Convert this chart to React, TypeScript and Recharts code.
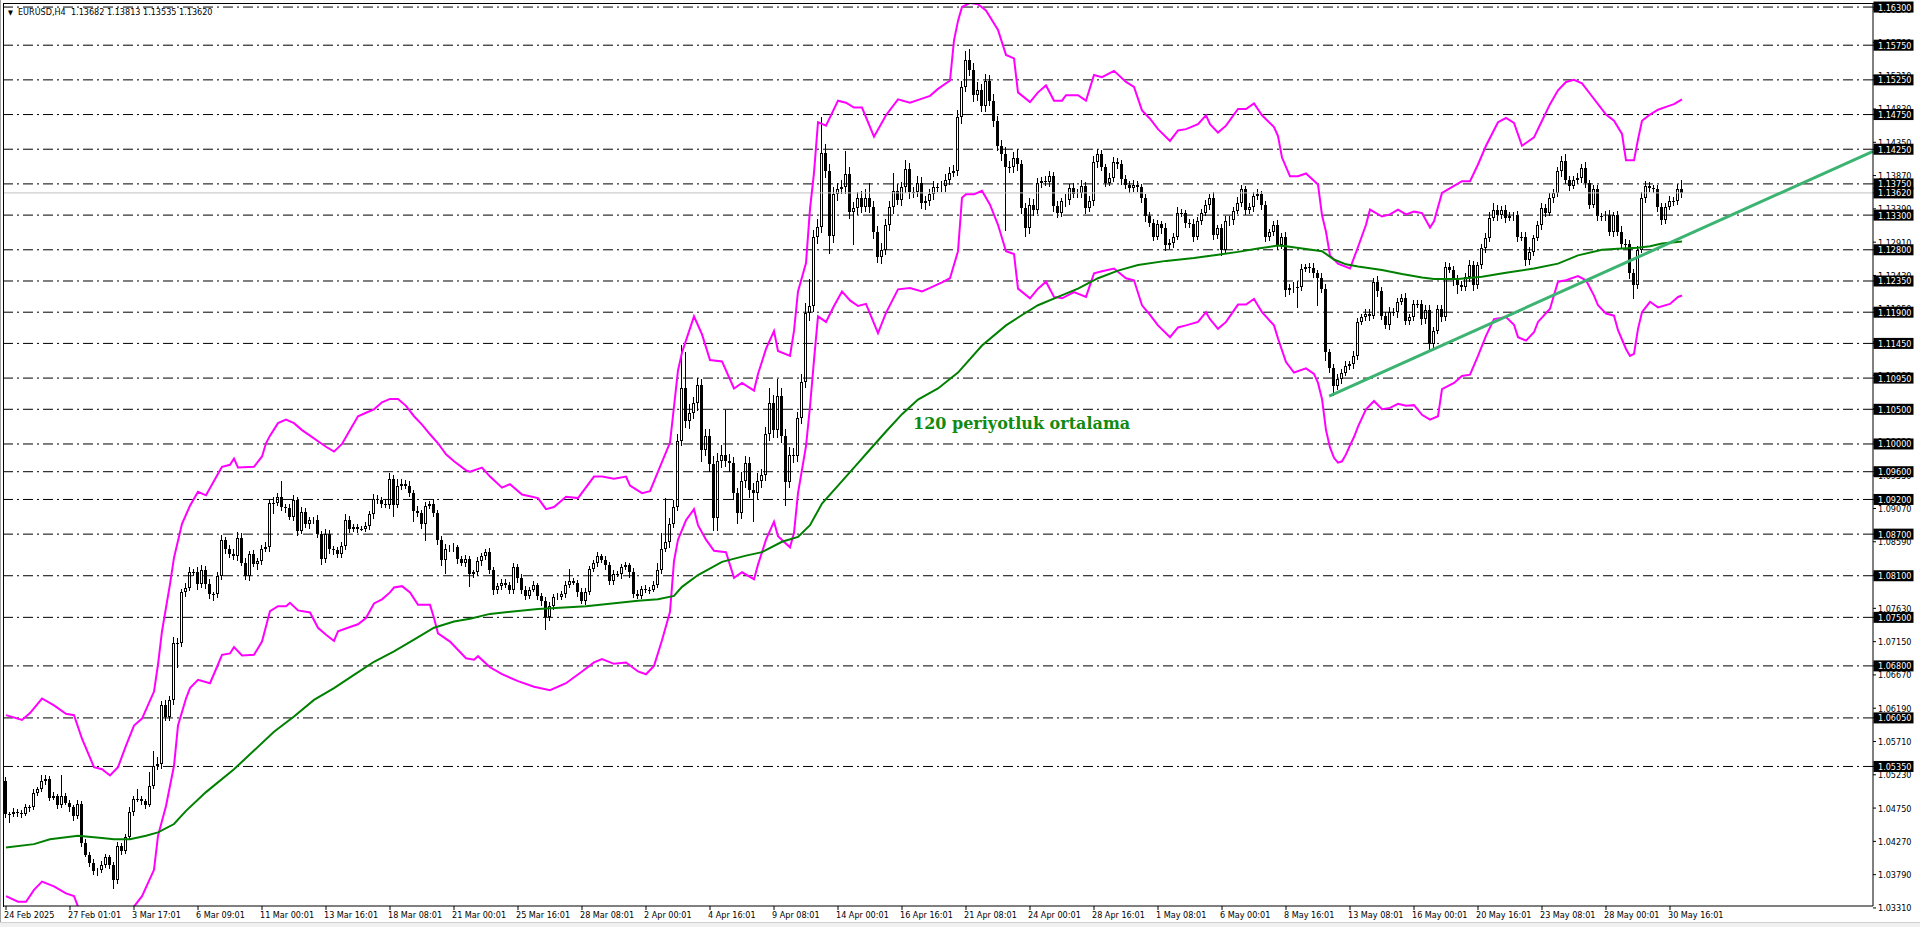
import React from 'react';
import { ComposedChart, Bar, Line, XAxis, YAxis, ReferenceLine } from 'recharts';

// EURUSD H4, prices in pips (1 pip = 0.0001)
const firstOpen = 10514;

const closes = [
  10466,10466,10470,10468,10466,10476,10476,10497,10502,10514,10517,10490,10492,10480,10492,10483,10476,10464,10481,10425,
  10408,10396,10384,10386,10393,10405,10393,10371,10420,10413,10434,10470,10488,10488,10485,10480,10507,10536,10538,10623,
  10606,10631,10713,10713,10786,10793,10815,10815,10798,10819,10798,10783,10783,10810,10861,10849,10841,10839,10865,10829,
  10810,10841,10827,10831,10849,10851,10915,10915,10924,10909,10907,10895,10919,10875,10902,10885,10890,10891,10870,10834,
  10870,10848,10847,10841,10853,10891,10878,10880,10878,10878,10882,10899,10921,10919,10914,10912,10950,10912,10940,10943,
  10940,10930,10904,10900,10884,10911,10913,10900,10861,10832,10849,10850,10851,10834,10829,10834,10812,10815,10831,10838,
  10844,10818,10789,10795,10800,10797,10789,10823,10807,10789,10781,10790,10797,10781,10774,10750,10766,10779,10780,10784,
  10797,10802,10800,10787,10774,10787,10820,10828,10838,10833,10826,10802,10812,10812,10823,10825,10815,10784,10781,10791,
  10790,10790,10797,10818,10849,10859,10885,10909,11005,11080,11033,11045,11059,11085,10992,11012,10971,10893,10976,10984,
  10976,10972,10929,10901,10947,10973,10934,10930,10947,10955,11015,11059,11020,11069,11012,10945,10984,10982,11038,11090,
  11189,11199,11298,11313,11420,11394,11300,11360,11368,11370,11389,11334,11340,11355,11342,11355,11342,11306,11269,11280,
  11316,11342,11365,11352,11370,11396,11363,11363,11376,11347,11350,11360,11370,11370,11372,11381,11391,11394,11471,11515,
  11553,11539,11503,11510,11488,11524,11495,11466,11430,11418,11399,11399,11413,11403,11340,11311,11345,11338,11377,11379,
  11378,11386,11343,11333,11350,11352,11369,11360,11362,11372,11340,11350,11406,11418,11399,11377,11384,11406,11404,11382,
  11374,11369,11373,11370,11355,11328,11319,11299,11317,11311,11287,11290,11299,11333,11333,11319,11317,11299,11322,11333,
  11345,11355,11302,11311,11280,11321,11323,11336,11348,11367,11338,11341,11357,11360,11345,11299,11305,11316,11287,11299,
  11222,11225,11227,11227,11253,11255,11254,11246,11239,11224,11132,11110,11084,11094,11103,11113,11115,11127,11176,11183,
  11188,11185,11234,11220,11185,11171,11190,11190,11205,11210,11178,11183,11202,11202,11180,11193,11144,11163,11195,11183,
  11255,11251,11236,11229,11226,11241,11258,11229,11258,11282,11297,11326,11338,11330,11338,11326,11328,11330,11299,11299,
  11265,11277,11297,11316,11340,11333,11355,11362,11393,11408,11381,11372,11381,11384,11398,11376,11345,11367,11328,11328,
  11330,11306,11330,11306,11289,11289,11246,11229,11280,11355,11372,11369,11367,11342,11323,11342,11350,11350,11368,11362,
];

// upper / lower shadow length of every candle, pips
const wickHi = [
  6,4,5,3,4,5,3,6,4,8,5,4,6,3,30,5,4,3,6,4,
  5,4,6,3,5,4,3,4,6,5,4,6,4,14,4,3,20,22,10,6,
  8,6,9,7,5,6,7,5,8,6,5,7,4,6,8,5,6,7,8,6,
  7,5,6,5,6,7,5,9,6,22,5,6,8,5,7,6,5,4,6,5,
  7,6,5,4,6,8,5,4,5,4,6,5,7,5,4,6,8,5,9,6,
  5,6,4,7,5,6,5,8,5,6,7,5,6,4,5,6,5,4,6,5,
  4,6,5,4,5,6,4,5,4,5,6,4,5,3,4,5,6,4,5,4,
  6,18,5,4,5,6,4,5,6,4,5,4,6,5,4,5,4,6,5,4,
  5,4,6,10,23,63,8,10,10,62,52,12,9,10,8,9,10,12,11,15,
  65,10,9,8,12,9,8,10,11,9,10,21,12,24,11,9,12,10,8,11,
  14,39,10,12,52,12,10,11,9,10,33,11,9,8,10,12,21,9,8,10,
  9,8,26,10,8,13,9,8,10,9,7,8,9,6,7,8,9,8,10,9,
  13,17,10,12,9,10,8,9,7,8,10,9,8,12,7,8,9,8,7,6,
  7,8,6,7,5,8,6,7,5,8,6,7,9,8,6,5,7,8,6,5,
  6,5,7,6,5,6,7,5,6,5,7,6,5,8,6,5,6,7,5,6,
  7,6,8,5,6,7,5,6,8,7,5,6,7,8,5,6,5,6,7,5,
  6,5,7,8,6,5,6,7,5,8,6,5,6,7,5,6,5,7,6,5,
  6,7,5,8,6,5,7,6,5,6,7,5,6,5,6,7,8,6,5,6,
  8,6,5,7,6,5,7,6,5,6,7,8,9,6,5,7,6,5,6,7,
  6,7,5,6,8,6,7,5,6,7,10,6,5,7,6,8,5,7,6,5,
  6,7,5,6,8,6,5,7,6,8,7,6,5,7,6,5,8,6,7,13,
];

const wickLo = [
  5,12,4,6,5,3,6,4,5,4,6,5,4,6,5,4,6,7,5,6,
  4,6,5,7,4,5,6,12,5,6,4,5,6,4,5,6,4,5,6,7,
  6,5,8,36,6,7,5,6,8,5,7,6,9,5,6,7,5,6,8,5,
  6,7,5,8,6,5,7,16,5,6,7,5,6,8,5,6,7,5,6,8,
  5,6,7,6,5,6,7,5,6,4,5,6,7,5,6,5,6,18,5,6,
  5,6,16,5,6,24,5,6,7,8,19,5,6,7,5,6,18,5,6,7,
  5,6,7,5,6,4,5,6,7,5,6,5,4,6,7,18,5,6,4,5,
  6,5,4,7,5,6,5,4,6,5,7,6,5,4,6,5,8,6,5,4,
  5,6,4,5,6,5,9,6,5,8,10,12,9,11,18,9,11,18,18,10,
  9,12,10,16,9,10,12,42,10,11,9,10,12,11,10,34,9,10,8,9,
  10,12,9,10,9,11,26,10,9,8,10,9,47,10,9,8,9,10,8,9,
  8,9,10,7,9,8,10,9,7,8,9,7,8,6,7,8,7,6,7,9,
  8,9,10,8,9,10,8,9,8,10,92,8,9,10,9,12,8,9,7,8,
  6,7,8,7,6,8,7,6,5,7,8,6,7,8,6,7,5,6,7,8,
  6,7,5,6,7,8,6,7,5,8,9,6,7,5,6,7,6,8,5,6,
  5,7,8,6,9,5,6,7,5,6,8,7,6,5,7,8,6,5,7,6,
  10,7,8,31,6,5,7,6,40,7,12,8,15,6,7,5,6,7,6,5,
  6,7,5,8,6,5,7,6,8,5,6,7,5,6,8,7,9,6,5,7,
  6,5,8,13,6,5,7,8,6,5,7,6,5,8,6,7,5,6,8,6,
  9,7,6,5,7,6,5,7,6,8,6,7,5,6,8,7,6,5,7,6,
  7,6,8,6,7,8,8,20,6,5,7,6,5,8,7,6,5,7,6,8,
];

const upperBand = [
  [0,10609],[4,10602],[6,10612],[9,10633],[12,10623],[15,10611],[17,10609],[19,10575],[22,10534],[24,10531],
  [26,10522],[28,10534],[30,10565],[32,10594],[34,10604],[37,10643],[38,10682],[39,10730],[41,10798],[42,10836],
  [44,10885],[46,10911],[48,10931],[50,10926],[53,10957],[54,10967],[56,10970],[57,10979],[58,10966],[62,10967],
  [64,10982],[65,11001],[66,11012],[68,11030],[70,11035],[72,11030],[74,11020],[76,11012],[78,11004],[80,10996],
  [82,10989],[84,11000],[86,11020],[88,11040],[90,11045],[92,11050],[94,11060],[96,11065],[98,11065],[100,11055],
  [102,11040],[104,11028],[106,11014],[108,11001],[110,10985],[112,10975],[115,10962],[116,10960],[119,10966],[121,10953],
  [124,10937],[126,10942],[129,10927],[133,10922],[135,10906],[137,10909],[140,10924],[143,10922],[147,10953],[149,10953],
  [152,10950],[155,10953],[156,10940],[159,10929],[161,10932],[163,10960],[166,11002],[167,11054],[168,11106],[169,11132],
  [172,11184],[174,11158],[176,11121],[179,11119],[182,11080],[184,11088],[187,11077],[188,11101],[190,11137],[192,11163],
  [193,11134],[196,11127],[197,11163],[198,11220],[200,11261],[201,11339],[202,11391],[203,11464],[205,11459],[208,11495],
  [210,11492],[212,11485],[214,11485],[217,11443],[220,11474],[223,11497],[226,11492],[229,11498],[231,11502],[233,11512],
  [236,11524],[237,11582],[238,11610],[239,11630],[241,11636],[243,11634],[245,11625],[248,11597],[250,11561],[252,11556],
  [253,11507],[256,11493],[258,11507],[260,11517],[262,11495],[264,11495],[265,11503],[268,11503],[270,11495],[272,11532],
  [274,11529],[277,11538],[280,11522],[282,11515],[284,11481],[286,11469],[288,11454],[291,11437],[293,11452],[295,11454],
  [298,11461],[300,11474],[301,11461],[303,11449],[305,11459],[308,11483],[310,11483],[312,11491],[314,11474],[317,11457],
  [318,11444],[319,11413],[321,11386],[323,11386],[325,11390],[328,11374],[329,11330],[330,11306],[331,11272],[333,11260],
  [336,11253],[338,11284],[340,11316],[341,11338],[344,11328],[346,11331],[348,11338],[350,11331],[352,11335],[354,11333],
  [356,11312],[357,11321],[359,11362],[362,11372],[364,11379],[366,11379],[368,11403],[370,11430],[373,11464],[375,11470],
  [377,11463],[379,11430],[382,11442],[384,11466],[386,11490],[388,11510],[390,11522],[392,11525],[394,11520],[396,11505],
  [398,11490],[400,11475],[402,11466],[404,11447],[405,11409],[407,11409],[408,11439],[409,11466],[411,11475],[413,11482],
  [415,11486],[417,11490],[419,11497],
];

const lowerBand = [
  [0,10348],[3,10340],[5,10340],[7,10357],[9,10369],[12,10362],[15,10352],[17,10348],[18,10333],[20,10315],
  [22,10300],[24,10292],[26,10290],[28,10295],[30,10310],[32,10333],[34,10348],[37,10386],[38,10435],[40,10478],
  [42,10536],[43,10594],[45,10633],[46,10648],[48,10660],[51,10655],[53,10682],[54,10696],[56,10698],[57,10707],
  [59,10695],[62,10696],[64,10715],[66,10759],[68,10766],[70,10766],[71,10771],[73,10760],[76,10757],[78,10735],
  [80,10725],[82,10716],[83,10730],[86,10736],[88,10740],[90,10749],[92,10770],[94,10776],[96,10786],[97,10793],
  [99,10795],[101,10786],[103,10768],[106,10768],[107,10749],[108,10727],[111,10715],[115,10691],[117,10689],[118,10694],
  [121,10678],[124,10668],[128,10658],[132,10650],[136,10645],[140,10655],[144,10672],[147,10685],[149,10690],[152,10683],
  [155,10685],[158,10672],[160,10668],[162,10680],[164,10717],[166,10758],[167,10831],[168,10862],[170,10890],[172,10906],
  [173,10883],[175,10862],[177,10846],[180,10844],[182,10807],[184,10815],[187,10805],[188,10826],[190,10862],[192,10888],
  [193,10867],[196,10851],[197,10872],[198,10929],[200,10997],[201,11054],[202,11121],[203,11184],[205,11176],[207,11199],
  [209,11220],[211,11207],[213,11199],[215,11202],[218,11160],[220,11189],[223,11223],[226,11225],[229,11220],[231,11225],
  [234,11233],[236,11239],[238,11278],[239,11355],[240,11360],[242,11360],[244,11365],[246,11345],[248,11316],[250,11278],
  [252,11274],[253,11224],[256,11210],[258,11224],[260,11234],[262,11212],[264,11210],[267,11219],[270,11212],[272,11246],
  [274,11249],[277,11253],[280,11239],[282,11236],[284,11200],[286,11186],[288,11171],[291,11154],[293,11168],[295,11171],
  [298,11176],[300,11190],[301,11180],[303,11166],[305,11176],[308,11201],[310,11201],[312,11209],[314,11190],[317,11171],
  [318,11152],[320,11118],[322,11103],[325,11109],[327,11101],[328,11088],[329,11065],[330,11020],[331,10995],[332,10980],
  [333,10973],[334,10975],[335,10985],[336,10998],[337,11010],[338,11025],[340,11050],[342,11062],[344,11050],[346,11052],
  [348,11058],[350,11055],[352,11056],[354,11042],[356,11035],[358,11040],[359,11079],[362,11088],[364,11098],[366,11100],
  [368,11127],[370,11156],[372,11180],[375,11183],[377,11172],[378,11154],[380,11149],[382,11161],[383,11176],[386,11195],
  [388,11234],[390,11236],[393,11242],[395,11236],[397,11214],[398,11200],[400,11188],[402,11185],[403,11164],[405,11137],
  [406,11127],[407,11130],[408,11166],[409,11190],[411,11205],[413,11197],[416,11202],[418,11212],[419,11214],
];

const ma120 = [
  [0,10418],[7,10423],[11,10430],[18,10435],[24,10432],[27,10430],[31,10430],[35,10435],[38,10440],[42,10452],
  [45,10471],[50,10498],[57,10531],[62,10558],[67,10585],[72,10607],[77,10631],[82,10648],[87,10667],[92,10686],
  [97,10701],[102,10718],[107,10735],[112,10744],[116,10748],[121,10755],[133,10762],[145,10766],[158,10774],[163,10776],
  [167,10781],[169,10794],[173,10811],[179,10830],[185,10839],[189,10844],[194,10859],[198,10866],[201,10883],[204,10914],
  [208,10940],[212,10966],[216,10992],[220,11018],[224,11043],[228,11064],[233,11080],[238,11103],[244,11142],[250,11171],
  [254,11186],[258,11200],[263,11212],[268,11224],[273,11239],[278,11250],[283,11258],[290,11264],[297,11268],[303,11273],
  [308,11277],[313,11282],[318,11286],[320,11285],[325,11281],[329,11278],[332,11266],[335,11259],[338,11256],[344,11251],
  [349,11245],[354,11240],[357,11238],[363,11238],[369,11241],[375,11247],[382,11253],[388,11260],[393,11272],[399,11280],
  [404,11282],[408,11283],[411,11285],[414,11289],[419,11292],
];

const timeTicks = [0,16,32,48,64,80,96,112,128,144,160,176,192,208,224,240,256,272,288,304,320,336,352,368,384,400,416];
const timeLabels = [
  '24 Feb 2025','27 Feb 01:01','3 Mar 17:01','6 Mar 09:01','11 Mar 00:01','13 Mar 16:01','18 Mar 08:01',
  '21 Mar 00:01','25 Mar 16:01','28 Mar 08:01','2 Apr 00:01','4 Apr 16:01','9 Apr 08:01','14 Apr 00:01',
  '16 Apr 16:01','21 Apr 08:01','24 Apr 00:01','28 Apr 16:01','1 May 08:01','6 May 00:01','8 May 16:01',
  '13 May 08:01','16 May 00:01','20 May 16:01','23 May 08:01','28 May 00:01','30 May 16:01',
];

const priceTicks = [
  1.0331,1.0379,1.0427,1.0475,1.0523,1.0571,1.0619,1.0667,1.0715,1.0763,1.0811,1.0859,1.0907,1.0955,
  1.1003,1.1051,1.1099,1.1147,1.1195,1.1243,1.1291,1.1339,1.1387,1.1435,1.1483,1.1531,1.1579,1.1627,
];

// horizontal lines drawn on the chart (their prices sit in black tags on the axis)
const levels = [
  1.163,1.1575,1.1525,1.1475,1.1425,1.1375,1.133,1.128,1.1235,1.119,1.1145,1.1095,
  1.105,1.1,1.096,1.092,1.087,1.081,1.075,1.068,1.0605,1.0535,
];
const lastPrice = 1.1362;
const trendStart = { x: 330.8, y: 1.1069 };
const trendEnd = { x: 466.75, y: 1.1422 };

const FONT = '"DejaVu Sans Condensed", "DejaVu Sans", sans-serif';

const tagValues = [...levels, lastPrice];
// tags come after the plain ticks so they are painted over them
const axisTicks = [...priceTicks, ...tagValues];

const rows: any[] = closes.map((c, i) => {
  const o = i === 0 ? firstOpen : closes[i - 1];
  const hi = Math.max(o, c) + wickHi[i];
  const lo = Math.min(o, c) - wickLo[i];
  return { i, open: o / 1e4, close: c / 1e4, high: hi / 1e4, low: lo / 1e4, range: [lo / 1e4, hi / 1e4] };
});
upperBand.forEach(([b, v]) => { rows[b].upper = v / 1e4; });
lowerBand.forEach(([b, v]) => { rows[b].lower = v / 1e4; });
ma120.forEach(([b, v]) => { rows[b].ma = v / 1e4; });

const Candle = (props: any) => {
  const { x, y, width, height, payload } = props;
  if (!payload || y == null || height == null) return null;
  const top = Math.min(y, y + height);
  const h = Math.abs(height);
  const span = payload.high - payload.low;
  const k = span > 0 ? h / span : 0;
  const py = (v: number) => top + (payload.high - v) * k;
  const cx = Math.floor(x + width / 2) + 0.5;
  const yo = py(payload.open);
  const yc = py(payload.close);
  const b0 = Math.round(Math.min(yo, yc));
  const b1 = Math.round(Math.max(yo, yc));
  const bull = payload.close > payload.open;
  return (
    <g shapeRendering="crispEdges">
      <line x1={cx} x2={cx} y1={Math.round(top)} y2={Math.round(top + h)} stroke="#000" strokeWidth={1} />
      {bull ? (
        <rect x={cx - 1} y={b0 + 0.5} width={2} height={Math.max(b1 - b0 - 1, 0)} fill="#fff" stroke="#000" strokeWidth={1} />
      ) : (
        <rect x={cx - 1.5} y={b0} width={3} height={Math.max(b1 - b0, 1)} fill="#000" />
      )}
    </g>
  );
};

const XTick = (props: any) => {
  const { x, y, payload } = props;
  const idx = timeTicks.indexOf(payload.value);
  return (
    <text x={x - 2} y={y + 6} fontSize={9} fontFamily={FONT} fill="#000" textAnchor="start">
      {idx >= 0 ? timeLabels[idx] : ''}
    </text>
  );
};

const YTick = (props: any) => {
  const { x, y, payload, index } = props;
  const v = Number(payload.value);
  const isTag = index >= priceTicks.length;
  if (isTag) {
    return (
      <g>
        <rect x={x - 4.5} y={y - 5.5} width={40} height={11} fill="#000" />
        <text x={x} y={y + 3.5} fontSize={9} fontFamily={FONT} fill="#fff" textAnchor="start">
          {v.toFixed(5)}
        </text>
      </g>
    );
  }
  return (
    <text x={x} y={y + 3.5} fontSize={9} fontFamily={FONT} fill="#000" textAnchor="start">
      {v.toFixed(5)}
    </text>
  );
};

export default function App() {
  return (
    <div style={{ position: 'absolute', left: 0, top: 0, width: 1920, height: 927, background: '#fff', overflow: 'hidden' }}>
      <ComposedChart width={1920} height={927} data={rows} margin={{ top: 4, right: 0, bottom: 0, left: 4 }}>
        <XAxis
          dataKey="i"
          type="number"
          domain={[-0.5, 466.75]}
          allowDataOverflow
          ticks={timeTicks}
          interval={0}
          tick={<XTick />}
          tickSize={4}
          height={21}
          axisLine={{ stroke: '#000' }}
          tickLine={{ stroke: '#000' }}
        />
        <YAxis
          orientation="right"
          type="number"
          domain={[1.03338, 1.16344]}
          allowDataOverflow
          ticks={axisTicks}
          interval={0}
          width={47}
          tickSize={3}
          tickMargin={2}
          tick={<YTick />}
          axisLine={{ stroke: '#000' }}
          tickLine={{ stroke: '#000' }}
        />
        {levels.map((lv) => (
          <ReferenceLine key={lv} y={lv} stroke="#000" strokeWidth={1} strokeDasharray="10 4 2 4" />
        ))}
        <ReferenceLine y={lastPrice} stroke="#c0c0c0" strokeWidth={1} />
        <Bar dataKey="range" shape={<Candle />} barSize={3} isAnimationActive={false} />
        <Line dataKey="upper" stroke="#ff00ff" strokeWidth={2} dot={false} connectNulls isAnimationActive={false} />
        <Line dataKey="lower" stroke="#ff00ff" strokeWidth={2} dot={false} connectNulls isAnimationActive={false} />
        <Line dataKey="ma" stroke="#008000" strokeWidth={2} dot={false} connectNulls isAnimationActive={false} />
        <ReferenceLine segment={[trendStart, trendEnd]} stroke="#3cb371" strokeWidth={3} />
      </ComposedChart>
      <div style={{ position: 'absolute', left: 3, top: 3, width: 1870, height: 903, borderLeft: '1px solid #000', borderTop: '1px solid #000', pointerEvents: 'none' }} />
      <div style={{ position: 'absolute', left: 0, top: 0, width: 1, height: 927, background: '#a0a0a0' }} />
      <div style={{ position: 'absolute', left: 0, top: 922, width: 1920, height: 5, background: '#f0f0f0', borderTop: '1px solid #d0d0d0' }} />
      <div style={{ position: 'absolute', left: 8, top: 7, fontFamily: FONT, fontSize: 9, lineHeight: '11px', color: '#000', whiteSpace: 'pre' }}>
        <span style={{ fontSize: 7 }}>▼</span>{'  EURUSD,H4  1.13682 1.13813 1.13535 1.13620'}
      </div>
      <div style={{ position: 'absolute', left: 913, top: 416, fontFamily: '"DejaVu Serif", serif', fontWeight: 700, fontSize: 16, lineHeight: '16px', color: '#128a12', whiteSpace: 'pre' }}>
        120 periyotluk ortalama
      </div>
    </div>
  );
}
